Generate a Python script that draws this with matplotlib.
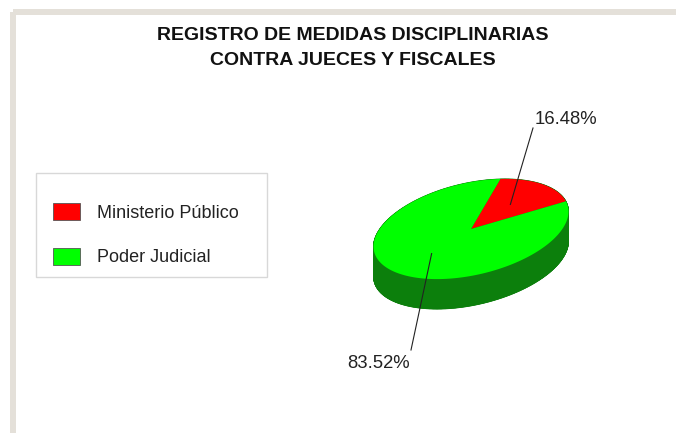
import numpy as np
import matplotlib
matplotlib.use("Agg")
import matplotlib.pyplot as plt
from matplotlib.patches import Polygon, Rectangle

plt.rcParams['font.family'] = ['Liberation Sans', 'DejaVu Sans']

# ---- data ----
title = "REGISTRO DE MEDIDAS DISCIPLINARIAS\nCONTRA JUECES Y FISCALES"
categories = ["Ministerio Público", "Poder Judicial"]
values = [16.48, 83.52]
colors = ["#ff0000", "#00ff00"]
side_color = "#0c7f0c"

W, H = 676, 433
fig = plt.figure(figsize=(W / 100, H / 100), dpi=100)
ax = fig.add_axes([0, 0, 1, 1])
ax.set_xlim(0, W)
ax.set_ylim(H, 0)
ax.axis("off")

# frame
ax.add_patch(Rectangle((13, 12), W, H, fill=False, ec="#e4e0d9", lw=4.3))

# title
ax.text(353, 48, title, ha="center", va="center", fontsize=14,
        fontweight="bold", linespacing=1.55, color="#111111")

# ---- 3D pie geometry ----
cx, cy = 471, 229
a, b = 99.5, 46
rot = np.deg2rad(13)
depth = 30
start = 7.0  # degrees, parameter angle where first wedge starts

u = np.array([np.cos(rot), -np.sin(rot)])   # y down in display coords
v = np.array([-np.sin(rot), -np.cos(rot)])

def pt(tdeg, r=1.0):
    t = np.deg2rad(tdeg)
    return np.array([cx, cy]) + r * (a * np.cos(t) * u + b * np.sin(t) * v)

ts = np.linspace(0, 360, 721)
top = np.array([pt(t) for t in ts])
bot = top + np.array([0, depth])
ax.add_patch(Polygon(bot, closed=True, fc=side_color, ec="none"))
for i in range(len(ts) - 1):
    quad = [top[i], top[i + 1], bot[i + 1], bot[i]]
    ax.add_patch(Polygon(quad, closed=True, fc=side_color, ec=side_color, lw=0.5))

total = sum(values)
angle = start
mids = []
for val, col in zip(values, colors):
    span = 360 * val / total
    tt = np.linspace(angle, angle + span, 200)
    pts = [np.array([cx, cy])] + [pt(t) for t in tt]
    ax.add_patch(Polygon(pts, closed=True, fc=col, ec="none"))
    mids.append(angle + span / 2)
    angle += span

# labels with leader lines
label_pos = [(566, 120), (379, 363)]
line_end = [(533, 128), (411, 350)]
for val, m, lp, le in zip(values, mids, label_pos, line_end):
    p = pt(m, 0.55)
    ax.plot([p[0], le[0]], [p[1], le[1]], color="#222222", lw=0.8)
    ax.text(lp[0], lp[1], f"{val:.2f}%", ha="center", va="center",
            fontsize=13.3, color="#222222")

# legend
ax.add_patch(Rectangle((36, 173), 231, 104, fc="white", ec="#d8d8d8", lw=1))
leg_y = [211, 256]
for cat, col, y in zip(categories, colors, leg_y):
    ax.add_patch(Rectangle((53, y - 8.5), 27, 17, fc=col, ec="#555555", lw=0.6))
    ax.text(97, y + 2, cat, ha="left", va="center", fontsize=13, color="#222222")

fig.savefig("out.png", dpi=100)
